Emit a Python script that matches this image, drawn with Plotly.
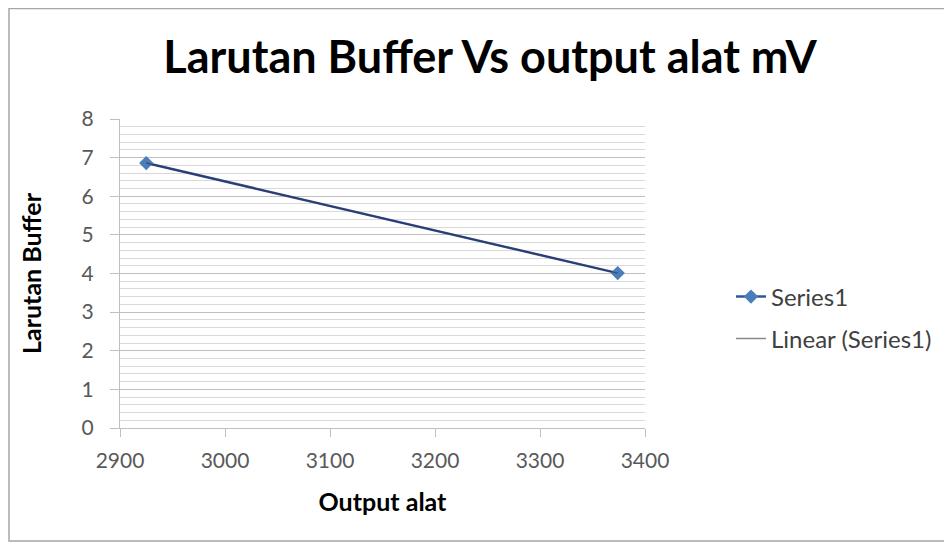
import numpy as np
import plotly.graph_objects as go

# Data
output_alat = [2925, 3374]
larutan_buffer = [6.86, 4.01]
series_name = "Series1"
trend_name = "Linear (Series1)"
title_text = "Larutan Buffer Vs output alat mV"
x_title = "Output alat"
y_title = "Larutan Buffer"
x_ticks = [2900, 3000, 3100, 3200, 3300, 3400]
y_ticks = [0, 1, 2, 3, 4, 5, 6, 7, 8]

# linear trendline from the data
coef = np.polyfit(output_alat, larutan_buffer, 1)
trend_x = [min(output_alat), max(output_alat)]
trend_y = [coef[0] * v + coef[1] for v in trend_x]

# the page body adds an 8px offset; work in page coordinates
OFF = 8
W, H = 952 - OFF, 548 - OFF
PL, PR, PT, PB = 120, 645, 119, 428  # plot area in page px
ML, MR, MT, MB = PL - OFF, W - (PR - OFF), PT - OFF, H - (PB - OFF)
PW, PH = W - ML - MR, H - MT - MB

def px_x(p):
    return (p - PL) / PW

def px_y(p):
    return (PB - p) / PH

FONT = "Lato"

fig = go.Figure()
fig.add_trace(go.Scatter(
    x=output_alat, y=larutan_buffer, mode="lines+markers", name=series_name,
    line=dict(color="#34549A", width=2.5),
    marker=dict(symbol="diamond", size=11, color="#4A7EBB"),
    legend="legend",
))
fig.add_trace(go.Scatter(
    x=trend_x, y=trend_y, mode="lines", name=trend_name,
    line=dict(color="rgba(40,40,60,0.55)", width=1.5),
    legend="legend2",
))

fig.update_layout(
    width=W, height=H,
    margin=dict(l=ML, r=MR, t=MT, b=MB),
    paper_bgcolor="white", plot_bgcolor="white",
    font=dict(family=FONT, color="#595959", size=21),
    title=dict(text="<b>" + title_text + "</b>", x=(490 - OFF) / W, xanchor="center",
               y=1 - (57 - OFF) / H, yanchor="middle",
               font=dict(family=FONT, size=45, color="black")),
    xaxis=dict(range=[2900, 3400], tickvals=x_ticks, showgrid=False,
               showline=True, linecolor="#BFBFBF", linewidth=1,
               ticks="outside", ticklen=8, tickcolor="#BFBFBF",
               ticklabelstandoff=6,
               tickfont=dict(size=21, color="#595959"), zeroline=False,
               title=dict(text="<b>" + x_title + "</b>", standoff=22,
                          font=dict(size=25, color="black"))),
    yaxis=dict(range=[0, 8], tickvals=y_ticks, showgrid=True,
               gridcolor="#BFBFBF", gridwidth=1,
               minor=dict(dtick=0.2, showgrid=True, gridcolor="#D9D9D9", gridwidth=1),
               showline=True, linecolor="#BFBFBF", linewidth=1,
               ticks="outside", ticklen=9, tickcolor="#BFBFBF",
               ticklabelstandoff=12,
               tickfont=dict(size=21, color="#595959"), zeroline=False,
               title=dict(text="<b>" + y_title + "</b>", standoff=32,
                          font=dict(size=25, color="black"))),
    legend=dict(x=px_x(731), y=px_y(297), xanchor="left", yanchor="middle",
                bgcolor="rgba(0,0,0,0)", font=dict(size=24, color="#404040")),
    legend2=dict(x=px_x(731), y=px_y(339), xanchor="left", yanchor="middle",
                 bgcolor="rgba(0,0,0,0)", font=dict(size=24, color="#404040")),
    showlegend=True,
)

# chart frame
fig.add_shape(type="rect", xref="paper", yref="paper",
              x0=px_x(9), x1=px_x(965), y0=px_y(541), y1=px_y(8.5),
              line=dict(color="#A6A6A6", width=1.5), layer="below")

fig.write_html("out.html")
